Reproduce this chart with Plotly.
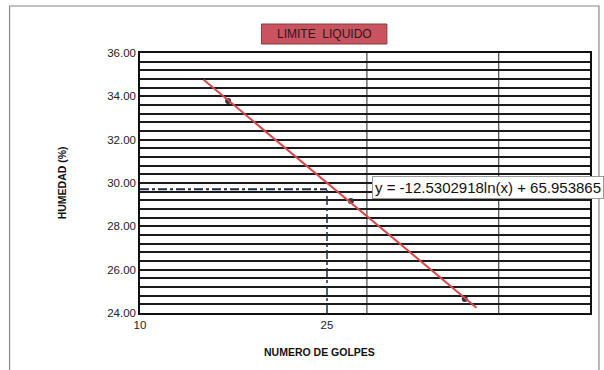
import numpy as np
import plotly.graph_objects as go

# Data
golpes = [15.4, 28.1, 49.1]          # number of blows
humedad = [33.78, 29.17, 24.65]      # moisture %
trend_x_range = [13.66, 52.0]        # extent of the fitted trend line
ll_golpes = 25                       # reference blow count
ll_humedad = 29.71                   # liquid limit read at 25 blows
grid_x = [30.4, 58.0]                # vertical grid lines
x_ticks = [10, 25]
x_ticktext = ["10", "25"]
equation_text = "y = -12.5302918ln(x) + 65.953865"

# log fit through the points
b, a = np.polyfit(np.log(golpes), humedad, 1)
tx = np.geomspace(trend_x_range[0], trend_x_range[1], 50)
ty = a + b * np.log(tx)

L, T, W, H = 140, 53, 452, 260


def px(xp):
    return (xp - L) / W


def py(yp):
    return (T + H - yp) / H


fig = go.Figure()

# LL guide lines
fig.add_trace(go.Scatter(x=[10, ll_golpes], y=[ll_humedad, ll_humedad], mode="lines",
                         line=dict(color="#1c2a48", width=2, dash="dashdot"),
                         showlegend=False, hoverinfo="skip"))
fig.add_trace(go.Scatter(x=[ll_golpes, ll_golpes], y=[24, ll_humedad], mode="lines",
                         line=dict(color="#1c2a48", width=1.5, dash="dashdot"),
                         showlegend=False, hoverinfo="skip"))

fig.add_trace(go.Scatter(x=golpes, y=humedad, mode="markers",
                         marker=dict(color="#30343e", size=6),
                         showlegend=False))
fig.add_trace(go.Scatter(x=tx, y=ty, mode="lines",
                         line=dict(color="#d8474a", width=2),
                         showlegend=False))

shapes = []
for gx in grid_x:
    shapes.append(dict(type="line", xref="x", yref="paper", x0=gx, x1=gx, y0=0, y1=1,
                       line=dict(color="#222", width=1), layer="below"))
# outer chart frame
shapes.append(dict(type="rect", xref="paper", yref="paper",
                   x0=px(9), x1=px(601), y0=py(371), y1=py(6),
                   line=dict(color="#888", width=1.2), fillcolor="rgba(0,0,0,0)"))
# title box
shapes.append(dict(type="rect", xref="paper", yref="paper",
                   x0=px(262), x1=px(388), y0=py(44), y1=py(24),
                   line=dict(color="#8a3a42", width=1), fillcolor="#c9535f"))

fig.update_layout(
    width=604, height=370,
    margin=dict(l=L, r=604 - L - W, t=T, b=370 - T - H),
    paper_bgcolor="white", plot_bgcolor="white",
    font=dict(family="Liberation Sans, Arial", color="#222"),
    shapes=shapes,
    annotations=[
        dict(text="LIMITE  LIQUIDO", xref="paper", yref="paper",
             x=px(325), y=py(34), xanchor="center", yanchor="middle", showarrow=False,
             font=dict(size=12, color="#2a1a1c")),
        dict(text=equation_text, xref="paper", yref="paper",
             x=px(373), y=py(188), xanchor="left", yanchor="middle",
             showarrow=False, bgcolor="white", bordercolor="#999", borderwidth=1,
             borderpad=2, font=dict(size=15, color="#111")),
        dict(text="<b>NUMERO DE GOLPES</b>", xref="paper", yref="paper",
             x=px(320), y=py(352), xanchor="center", yanchor="middle", showarrow=False,
             font=dict(size=10.5, color="#111")),
        dict(text="<b>HUMEDAD (%)</b>", xref="paper", yref="paper",
             x=px(62), y=py(183), xanchor="center", yanchor="middle", showarrow=False,
             textangle=-90, font=dict(size=10.5, color="#111")),
    ],
)

fig.update_xaxes(type="log", range=[1, np.log10(90.7)],
                 tickvals=x_ticks, ticktext=x_ticktext, showgrid=False,
                 showline=True, linecolor="#111", linewidth=1.5, mirror=True,
                 ticks="", tickfont=dict(size=11.5))
fig.update_yaxes(range=[24, 36], dtick=2, tickformat=".2f",
                 showgrid=True, gridcolor="#1a1a1a", gridwidth=1.8,
                 minor=dict(dtick=0.4, showgrid=True, gridcolor="#1a1a1a", gridwidth=1.8),
                 showline=True, linecolor="#111", linewidth=1.5, mirror=True,
                 ticks="", tickfont=dict(size=11.5), zeroline=False)

fig.write_html("out.html", config={"displayModeBar": False},
               post_script="document.body.style.margin='0px';")
